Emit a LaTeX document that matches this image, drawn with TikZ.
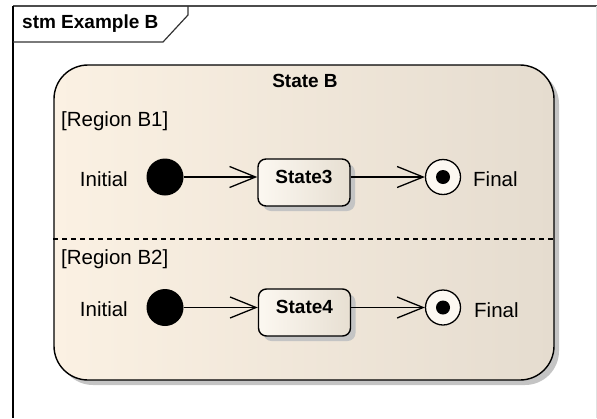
\documentclass[tikz,border=0pt]{standalone}
\usepackage{fontspec}
\setmainfont{Liberation Sans}
\usetikzlibrary{arrows.meta,shadows}

\definecolor{compL}{HTML}{FBF1E3}
\definecolor{compR}{HTML}{E5DCCF}
\definecolor{boxL}{HTML}{FCF8F1}
\definecolor{boxR}{HTML}{E7DFD2}
\definecolor{shade}{HTML}{C4C4C4}

\tikzset{
  txt/.style={font=\fontsize{20.5pt}{24pt}\selectfont, inner sep=0pt},
  boldtxt/.style={inner sep=0pt, font=\fontsize{19pt}{22pt}\selectfont\bfseries},
  dropsh/.style={drop shadow={shadow xshift=5pt, shadow yshift=-5pt, fill=shade, opacity=1}},
  composite/.style={draw=black, line width=1.4pt, rounded corners=34pt,
    left color=compL, right color=compR, shading angle=90, dropsh,
    minimum width=500pt, minimum height=315pt, inner sep=0pt},
  statebox/.style={draw=black, line width=1.4pt, rounded corners=8pt,
    left color=boxL, right color=boxR, dropsh,
    minimum width=92pt, minimum height=47pt, inner sep=0pt},
  initdot/.style={circle, fill=black, minimum size=37pt, inner sep=0pt},
  finalring/.style={circle, draw=black, line width=1.3pt, fill=boxL,
    minimum size=35pt, inner sep=0pt},
  finaldot/.style={circle, fill=black, minimum size=14pt, inner sep=0pt},
  trans/.style={line width=1.3pt, -{Straight Barb[length=26pt, width=21pt, line width=1.3pt]}},
}

\begin{document}
\begin{tikzpicture}[x=1pt, y=-1pt]
  \useasboundingbox (0,0) rectangle (597,418);

  % diagram frame and its name tab
  \draw[line width=1.2pt, black!70] (13,6) -- (597,6);
  \draw[line width=1pt, black!12] (596,6) -- (596,418);
  \draw[line width=1.4pt] (13,6) -- (13,418);
  \draw[line width=1.2pt, black!80] (13,42) -- (163,42) -- (188,15) -- (188,6);
  \node[boldtxt, anchor=west] (title) at (22,24) {stm Example B};

  % composite state
  \node[composite] (sb) at (304,222.5) {};
  \node[boldtxt] (sbname) at (305,81) {State B};
  \draw[line width=1.3pt, dash pattern=on 5pt off 4pt] (sb.west |- 0,239) coordinate (dl) -- (sb.east |- 0,239) coordinate (dr);

  % region B1
  \node[txt, anchor=west] (r1) at (61,121) {[Region B1]};
  \node[txt, anchor=east] (i1lbl) at (128,179) {Initial};
  \node[initdot] (i1) at (165,177) {};
  \node[statebox] (s3) at (304,182.5) {};
  \node[boldtxt] (s3name) at (304,177) {State3};
  \node[finalring] (f1) at (443,177) {};
  \node[finaldot] (f1c) at (f1.center) {};
  \node[txt, anchor=west] (f1lbl) at (473,179) {Final};
  \draw[trans] (i1) -- (i1 -| s3.west);
  \draw[trans] (s3.east |- f1) -- (f1);

  % region B2
  \node[txt, anchor=west] (r2) at (61,259) {[Region B2]};
  \node[txt, anchor=east] (i2lbl) at (128,309) {Initial};
  \node[initdot] (i2) at (165,307.5) {};
  \node[statebox] (s4) at (304.5,312.5) {};
  \node[boldtxt] (s4name) at (304.5,307) {State4};
  \node[finalring] (f2) at (443,307.5) {};
  \node[finaldot] (f2c) at (f2.center) {};
  \node[txt, anchor=west] (f2lbl) at (474,310) {Final};
  \draw[trans] (i2) -- (i2 -| s4.west);
  \draw[trans] (s4.east |- f2) -- (f2);
\end{tikzpicture}
\end{document}
